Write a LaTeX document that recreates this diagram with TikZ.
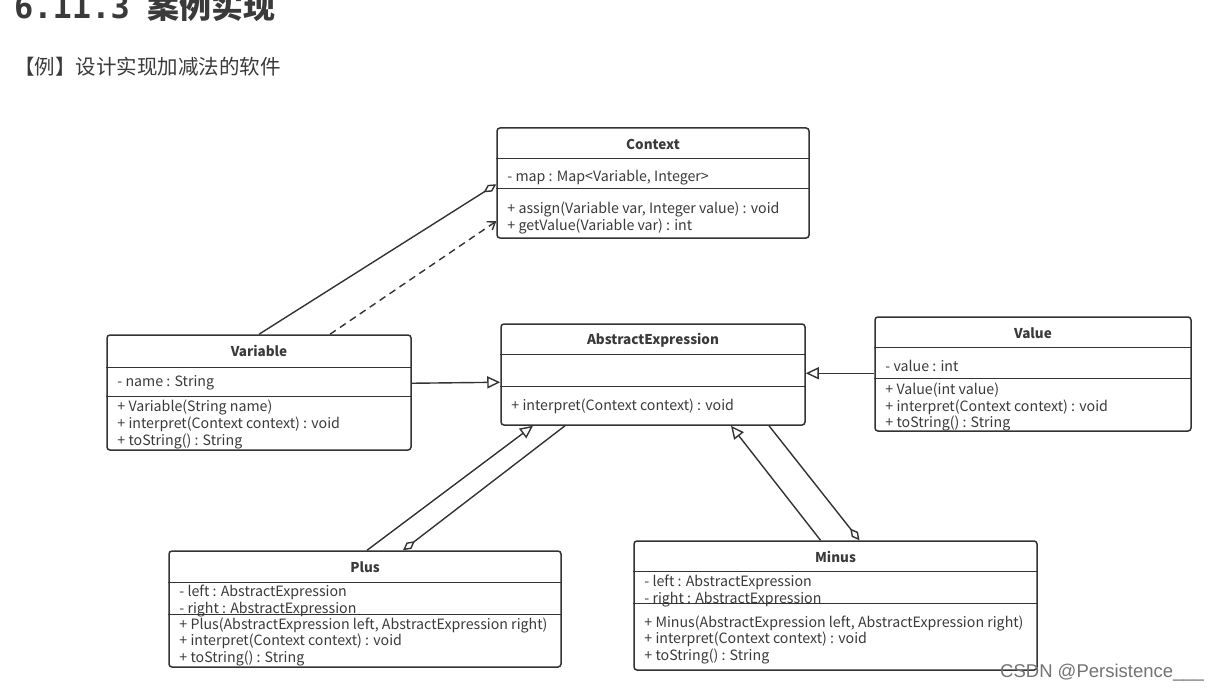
\documentclass[tikz,border=0pt]{standalone}
\usepackage{fontspec}
\setmainfont{Noto Sans CJK SC}
\newfontfamily\monofont{DejaVu Sans Mono}
\newfontfamily\markfont{Liberation Sans}
\usetikzlibrary{arrows.meta}
\definecolor{umlline}{HTML}{333333}
\definecolor{umltext}{HTML}{3A3A3A}

\tikzstyle{classbox} = [draw=umlline,line width=1.5pt,rounded corners=3pt,inner sep=0pt]
\tikzstyle{classname} = [inner sep=0pt,font=\fontsize{13.5}{15}\selectfont\bfseries,text=umltext]
\tikzstyle{member} = [anchor=west,inner sep=0pt,font=\fontsize{14.2}{16}\selectfont,text=umltext]
\tikzstyle{divider} = [draw=umlline,line width=1.5pt]
\tikzstyle{link} = [draw=umlline,line width=1.4pt]
\tikzstyle{inherit} = [link,-{Triangle[open,length=13pt,width=12pt]}]
\tikzstyle{aggregate} = [link,-{Diamond[open,length=15pt,width=8pt]}]
\tikzstyle{depend} = [link,dash pattern=on 7pt off 5pt,-{Straight Barb[length=7pt,width=10pt]}]

\begin{document}
\begin{tikzpicture}[x=1pt,y=-1pt]
      \useasboundingbox (0,0) rectangle (1220,690);
      %heading
      \node[anchor=base west,inner sep=0pt,text=umltext,font=\fontsize{32}{32}\selectfont\bfseries] (heading) at (14,19) {{\monofont 6.11.3}\hspace{18pt}案例实现};
      \node[anchor=west,inner sep=0pt,text=umltext,font=\fontsize{20.5}{22}\selectfont] (example) at (14,67) {【例】设计实现加减法的软件};

      %classes
      \foreach \nodename/\x/\y/\w/\h/\title/\first/\second in {
        ctx/653/183/312/110/Context/31/61,
        var/259/392.5/304/115/Variable/33/62,
        abs/653/374.5/304/101/AbstractExpression/31/63,
        val/1033/374/316/114/Value/31/62,
        plus/365/609/392/116/Plus/32/64,
        minus/835.5/605.5/403/129/Minus/31/63}
      {
        \node[classbox,minimum width=\w pt,minimum height=\h pt] (\nodename) at (\x,\y) {};
        \node[classname] (\nodename-title) at ([yshift=-17pt]\nodename.north) {\title};
        \draw[divider] ([yshift=-\first pt]\nodename.north west) -- ([yshift=-\first pt]\nodename.north east);
        \draw[divider] ([yshift=-\second pt]\nodename.north west) -- ([yshift=-\second pt]\nodename.north east);
      };

      %members
      \foreach \nodename/\dy/\txt in {
        ctx/50/{- map : Map<Variable, Integer>},
        ctx/82/{+ assign(Variable var, Integer value) : void},
        ctx/99/{+ getValue(Variable var) : int},
        var/49/{- name : String},
        var/73/{+ Variable(String name)},
        var/90/{+ interpret(Context context) : void},
        var/107/{+ toString() : String},
        abs/83/{+ interpret(Context context) : void},
        val/50/{- value : int},
        val/74/{+ Value(int value)},
        val/91/{+ interpret(Context context) : void},
        val/107/{+ toString() : String},
        plus/42/{- left : AbstractExpression},
        plus/59/{- right : AbstractExpression},
        plus/75/{+ Plus(AbstractExpression left, AbstractExpression right)},
        plus/91/{+ interpret(Context context) : void},
        plus/108/{+ toString() : String},
        minus/42/{- left : AbstractExpression},
        minus/59/{- right : AbstractExpression},
        minus/83/{+ Minus(AbstractExpression left, AbstractExpression right)},
        minus/99/{+ interpret(Context context) : void},
        minus/116/{+ toString() : String}}
      {
        \node[member] (\nodename-m\dy) at ([xshift=11pt,yshift=-\dy pt]\nodename.north west) {\txt};
      };

      %edges
      \draw[aggregate] (var.north) -- ([yshift=-57pt]ctx.north west);
      \draw[depend] ([xshift=71pt]var.north) -- ([yshift=-94pt]ctx.north west);
      \draw[inherit] ([yshift=-49pt]var.north east) -- ([yshift=-59pt]abs.north west);
      \draw[inherit] ([yshift=-57pt]val.north west) -- ([yshift=-50pt]abs.north east);
      \draw[inherit] ([xshift=2pt]plus.north) -- ([xshift=-120pt]abs.south);
      \draw[aggregate] ([xshift=-88pt]abs.south) -- ([xshift=38pt]plus.north);
      \draw[inherit] ([xshift=-15pt]minus.north) -- ([xshift=78pt]abs.south);
      \draw[aggregate] ([xshift=116pt]abs.south) -- ([xshift=24pt]minus.north);

      \node[anchor=base west,inner sep=0pt,text=black!55,font=\markfont\fontsize{18.5}{18}\selectfont] (mark) at (1000,677) {CSDN @Persistence\_\_\_};
\end{tikzpicture}
\end{document}
